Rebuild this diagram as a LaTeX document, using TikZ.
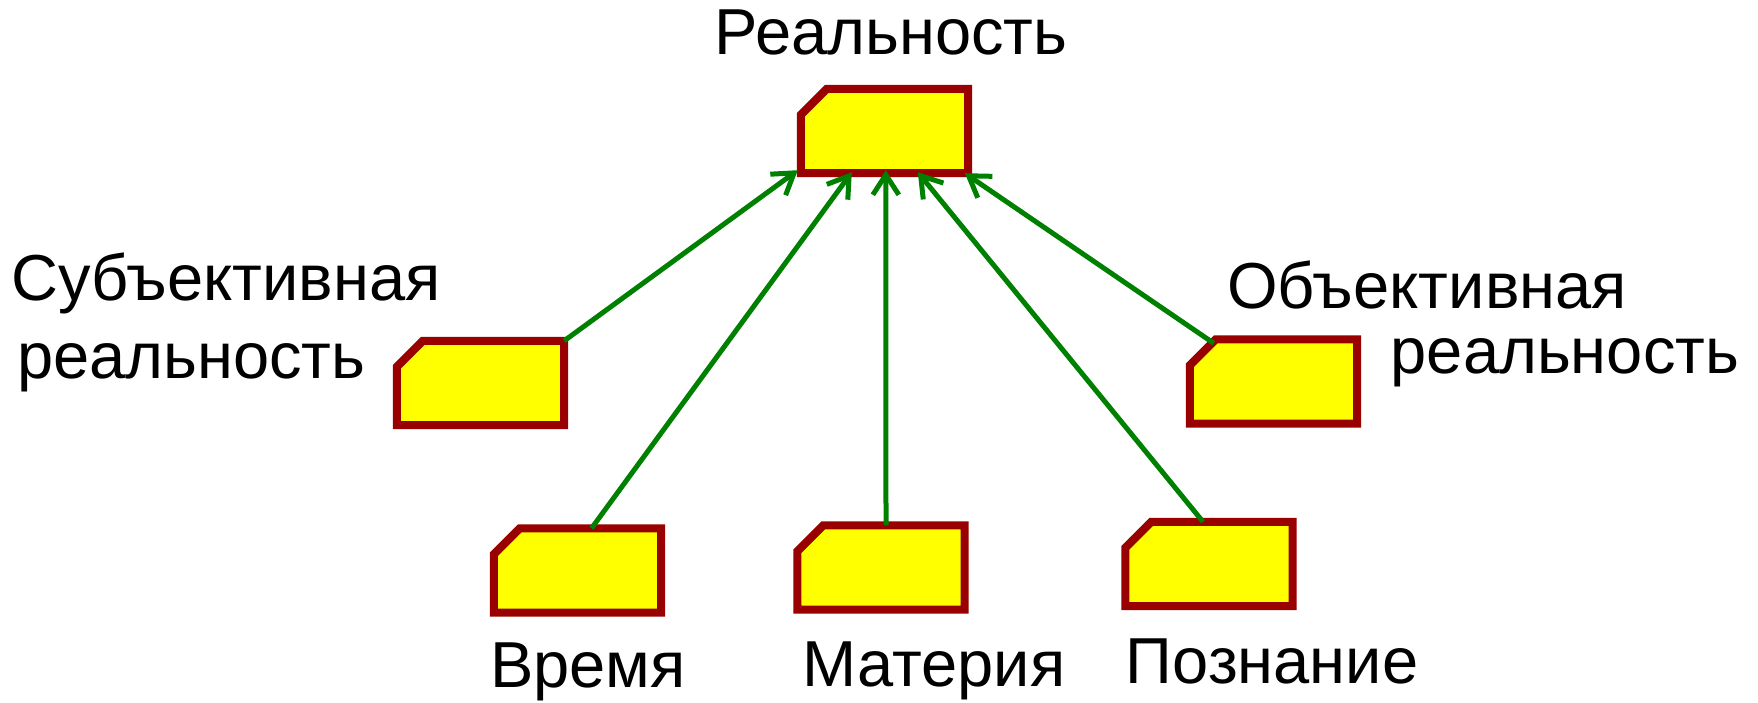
\documentclass[tikz,border=0pt]{standalone}
\usepackage{fontspec}
\setmainfont{Liberation Sans}
\usetikzlibrary{arrows.meta}
\definecolor{boxred}{RGB}{153,0,0}
\definecolor{boxyellow}{RGB}{255,255,0}
\definecolor{arrgreen}{RGB}{0,128,0}
\newcommand\chambox[1]{\path[blkdraw] (#1.south west) -- (#1.south east) -- (#1.north east) -- ([xshift=26pt]#1.north west) -- ([yshift=-26pt]#1.north west) -- cycle;}
\begin{document}
\begin{tikzpicture}[x=1pt,y=-1pt,
  blk/.style={rectangle,minimum width=167pt,minimum height=84pt,inner sep=0pt},
  blkdraw/.style={draw=boxred,fill=boxyellow,line width=8pt,line join=miter},
  lbl/.style={anchor=base,inner sep=0pt,font=\fontsize{65}{78}\selectfont},
  arr/.style={draw=arrgreen,line width=5pt,-{Straight Barb[length=20pt,width=26pt,line width=5pt]}}]
\useasboundingbox (0,0) rectangle (1758,703);
% boxes
\node[blk] (top) at (884.5,131) {};
\node[blk] (subj) at (480.5,383) {};
\node[blk] (time) at (577.5,570.5) {};
\node[blk] (matter) at (881,567.5) {};
\node[blk] (cogn) at (1209,564) {};
\node[blk] (obj) at (1273.5,381.5) {};
\chambox{top}
\chambox{subj}
\chambox{time}
\chambox{matter}
\chambox{cogn}
\chambox{obj}
% labels
\node[lbl] (ltop) at (891,55) {Реальность};
\node[lbl] (lsubj1) at (226,301) {Субъективная};
\node[lbl] (lsubj2) at (191.5,378) {реальность};
\node[lbl] (lobj1) at (1427,308) {Объективная};
\node[lbl] (lobj2) at (1565,373) {реальность};
\node[lbl] (ltime) at (588,687) {Время};
\node[lbl] (lmatter) at (934,686) {Материя};
\node[lbl] (lcogn) at (1272,683) {Познание};
% arrows
\draw[arr] (subj.north east) -- ([xshift=-3pt,yshift=3pt]top.south west);
\draw[arr] ([xshift=14pt]time.north) -- ([xshift=51pt,yshift=1pt]top.south west);
\draw[arr] ([xshift=5pt]matter.north) -- ([xshift=85pt,yshift=3pt]top.south west);
\draw[arr] ([xshift=-6pt]cogn.north) -- ([xshift=117pt,yshift=1pt]top.south west);
\draw[arr] ([xshift=24pt,yshift=-4pt]obj.north west) -- ([xshift=164pt]top.south west);
\end{tikzpicture}
\end{document}
